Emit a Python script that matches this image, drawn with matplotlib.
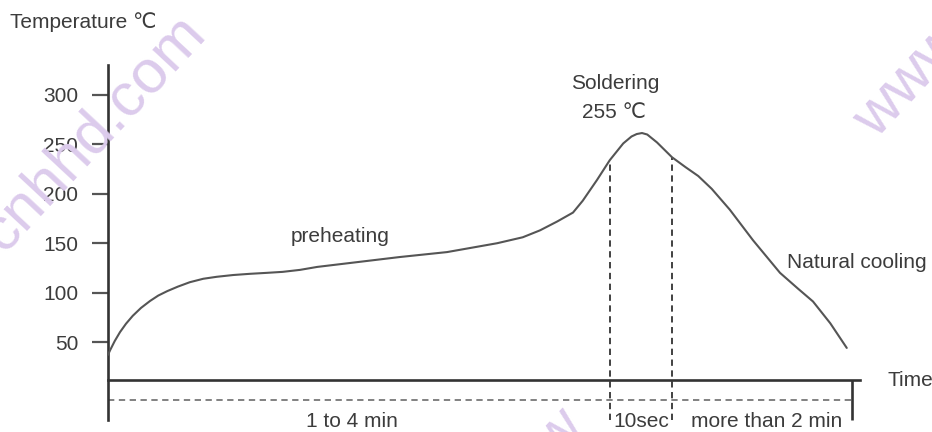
"""Reflow soldering temperature profile (schematic): preheating, 10 s soldering
peak at 255 C, natural cooling.

Usage: python plot.py  (writes out.png)
"""

import matplotlib

matplotlib.use("Agg")
import matplotlib.pyplot as plt
import numpy as np

plt.rcParams["font.family"] = ["Liberation Sans", "DejaVu Sans"]

# profile (time in arbitrary units, temperature in C)
time = [0, 0.3, 0.9, 1.6, 2.4, 3.3, 4.4, 5.6, 6.7, 7.9, 9.3, 10.9, 12.7,
        14.5, 16.7, 18.9, 21.2, 23.3, 25.6, 27.9, 32.3, 38.9, 45.2, 51.9,
        55.3, 57.6, 59.9, 62.0, 63.3, 65.2, 66.9, 68.7, 69.8, 70.5, 71.2,
        71.9, 73.2, 75.2, 77.0, 78.7, 80.5, 82.9, 86.0, 89.6, 92.0, 94.0,
        96.3, 98.5]
temp = [37, 42, 51, 60, 68.5, 76.5, 84.5, 91.5, 97, 101.5, 106, 110.5, 114,
        116, 117.8, 119, 120, 121, 123, 126, 130, 136, 141, 150,
        156, 163, 172, 181, 193, 214, 234, 251, 258, 260.5, 261.5,
        260, 252, 237, 227, 218, 205, 184, 153, 120, 104, 91,
        69, 44]

y_ticks = [50, 100, 150, 200, 250, 300]
solder_start, solder_end, time_end = 66.9, 75.2, 99.2
phase_labels = ["1 to 4 min", "10sec", "more than 2 min"]

TEXT = "#3c3c3c"
LINE = "#555555"
AXIS = "#333333"
WATERMARK = "#dccbec"


# picture pixel -> data helpers (layout only)
def tx(px):
    return (px - 108) / 7.5


def ty(py):
    return 300 - (py - 95) * 250 / 247


def main() -> None:
    fig = plt.figure(figsize=(9.32, 4.32), dpi=100)
    ax = fig.add_axes([0, 0, 1, 1])
    ax.set_xlim(tx(0), tx(932))
    ax.set_ylim(ty(432), ty(0))
    ax.patch.set_alpha(0)

    for s in ("top", "right"):
        ax.spines[s].set_visible(False)
    ax.spines["left"].set_position(("data", 0))
    ax.spines["left"].set_bounds(ty(420), ty(65))
    ax.spines["bottom"].set_position(("data", ty(380)))
    ax.spines["bottom"].set_bounds(0, tx(860))
    for s in ("left", "bottom"):
        ax.spines[s].set_linewidth(1.9)
        ax.spines[s].set_color(AXIS)

    ax.set_xticks([])
    ax.set_yticks(y_ticks)
    ax.tick_params(axis="y", direction="out", length=11.5, width=1.6,
                   color="#555555", pad=10, labelsize=15, labelcolor=TEXT)

    # watermark fragments
    fig.text(207 / 932, 1 - 35 / 432, "cnhhd.com", rotation=47,
             rotation_mode="anchor", ha="right", va="baseline", fontsize=44,
             color=WATERMARK, zorder=0)
    fig.text(876 / 932, 1 - 140 / 432, "www", rotation=47,
             rotation_mode="anchor", ha="left", va="baseline", fontsize=44,
             color=WATERMARK, zorder=0)
    fig.text(556 / 932, 1 - 462 / 432, "w", rotation=47,
             rotation_mode="anchor", ha="left", va="baseline", fontsize=44,
             color=WATERMARK, zorder=0)

    ax.plot(time, temp, color=LINE, lw=1.5, solid_capstyle="round",
            solid_joinstyle="round", zorder=3)

    # soldering window
    for t in (solder_start, solder_end):
        ax.vlines(t, ty(420), np.interp(t, time, temp), colors=AXIS,
                  linestyles=(0, (3.5, 2.5)), lw=1.3, zorder=2)
    ax.hlines(ty(400), 0, time_end, colors="#777777",
              linestyles=(0, (3.5, 2.5)), lw=1.3)
    ax.vlines(time_end, ty(420), ty(380), colors=AXIS, lw=1.9)

    ax.text(tx(10), ty(22), "Temperature ℃", fontsize=15, color=TEXT,
            ha="left", va="center")
    ax.text(tx(888), ty(380), "Time", fontsize=15, color=TEXT,
            ha="left", va="center")
    ax.text(tx(340), ty(236), "preheating", fontsize=15, color=TEXT,
            ha="center", va="center")
    ax.text(tx(615), ty(83), "Soldering", fontsize=15, color=TEXT,
            ha="center", va="center")
    ax.text(tx(614), ty(112), "255 ℃", fontsize=15, color=TEXT,
            ha="center", va="center")
    ax.text(tx(787), ty(263), "Natural cooling", fontsize=15, color=TEXT,
            ha="left", va="center")

    label_x = [tx(352), (solder_start + solder_end) / 2, tx(767)]
    for x, lab in zip(label_x, phase_labels):
        ax.text(x, ty(431), lab, fontsize=15, color=TEXT, ha="center",
                va="bottom")

    fig.savefig("out.png", dpi=100)


if __name__ == "__main__":
    main()
